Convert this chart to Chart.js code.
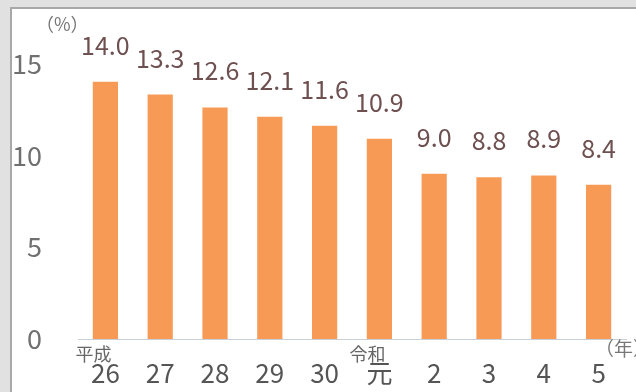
<!DOCTYPE html>
<html>
<head>
<meta charset="utf-8">
<script src="https://cdn.jsdelivr.net/npm/chart.js@4/dist/chart.umd.min.js"></script>
<style>
  html, body { margin: 0; padding: 0; width: 636px; height: 392px; overflow: hidden; background: #e1e1e1; }
  #panel { position: absolute; left: 10px; top: 7px; width: 640px; height: 400px; background: #fff; border: 2px solid #a8a8a8; }
  #wrap { position: absolute; left: 0; top: 0; width: 636px; height: 392px; }
</style>
</head>
<body>
<div id="panel"></div>
<div id="wrap"><canvas id="rateChart"></canvas></div>
<script>
const years = ['26', '27', '28', '29', '30', '元', '2', '3', '4', '5'];
const eraNames = ['平成', '', '', '', '', '令和', '', '', '', ''];
const rates = [14.0, 13.3, 12.6, 12.1, 11.6, 10.9, 9.0, 8.8, 8.9, 8.4];
const yTicks = [0, 5, 10, 15];
const unitY = '（%）';
const unitX = '（年）';

const FONT = '"Noto Sans CJK JP", "Noto Sans", sans-serif';

// value labels over the bars, era names under the first year of each era, and unit labels
const labelPlugin = {
    id: 'barLabels',
    afterDatasetsDraw(chart) {
        const ctx = chart.ctx;
        const meta = chart.getDatasetMeta(0);
        const area = chart.chartArea;
        ctx.save();
        ctx.textAlign = 'center';
        ctx.textBaseline = 'alphabetic';
        ctx.font = '25px ' + FONT;
        ctx.fillStyle = '#6e5050';
        meta.data.forEach(function(bar, i) {
            ctx.fillText(rates[i].toFixed(1), bar.x, bar.y - 27);
        });

        ctx.textBaseline = 'middle';
        ctx.font = '18px ' + FONT;
        ctx.fillStyle = '#666';
        meta.data.forEach(function(bar, i) {
            if (eraNames[i])
                ctx.fillText(eraNames[i], bar.x - 12, area.bottom + 15);
        });

        ctx.textAlign = 'left';
        ctx.font = '18px ' + FONT;
        ctx.fillStyle = '#777';
        ctx.fillText(unitY, 36, 24);
        ctx.font = '19px ' + FONT;
        ctx.fillText(unitX, area.right - 31, area.bottom + 10);
        ctx.restore();
    }
};

const canvas = document.getElementById('rateChart');
new Chart(canvas, {
    type: 'bar',
    data: {
        labels: years,
        datasets: [{
            data: rates,
            backgroundColor: '#f79a55',
            borderWidth: 0,
            categoryPercentage: 1.0,
            barPercentage: 0.46,
        }]
    },
    options: {
        responsive: true,
        maintainAspectRatio: false,
        animation: false,
        layout: {
            padding: { left: 10, right: 10, top: 45, bottom: 3 }
        },
        plugins: {
            legend: { display: false },
            tooltip: { enabled: false }
        },
        scales: {
            x: {
                grid: { display: false, drawTicks: false },
                border: { display: true, color: '#c9d0da', width: 1 },
                afterFit: function(scale) {
                    scale.height = 50;
                    scale.paddingLeft = 0;
                    scale.paddingRight = 0;
                },
                ticks: {
                    padding: 19,
                    color: '#555',
                    font: { family: FONT, size: 26 },
                    maxRotation: 0,
                    autoSkip: false
                }
            },
            y: {
                min: 0,
                max: 16,
                grid: { display: false, drawTicks: false },
                border: { display: false },
                afterFit: function(scale) {
                    // keep the tick padding from pushing the plot area down
                    scale.width = 68;
                    scale.paddingTop = 0;
                    scale.paddingBottom = 0;
                },
                afterBuildTicks: function(scale) {
                    scale.ticks = yTicks.map(function(v) { return { value: v }; });
                },
                ticks: {
                    padding: 36,
                    color: '#707070',
                    font: { family: FONT, size: 27 }
                }
            }
        }
    },
    plugins: [labelPlugin]
});
</script>
</body>
</html>
